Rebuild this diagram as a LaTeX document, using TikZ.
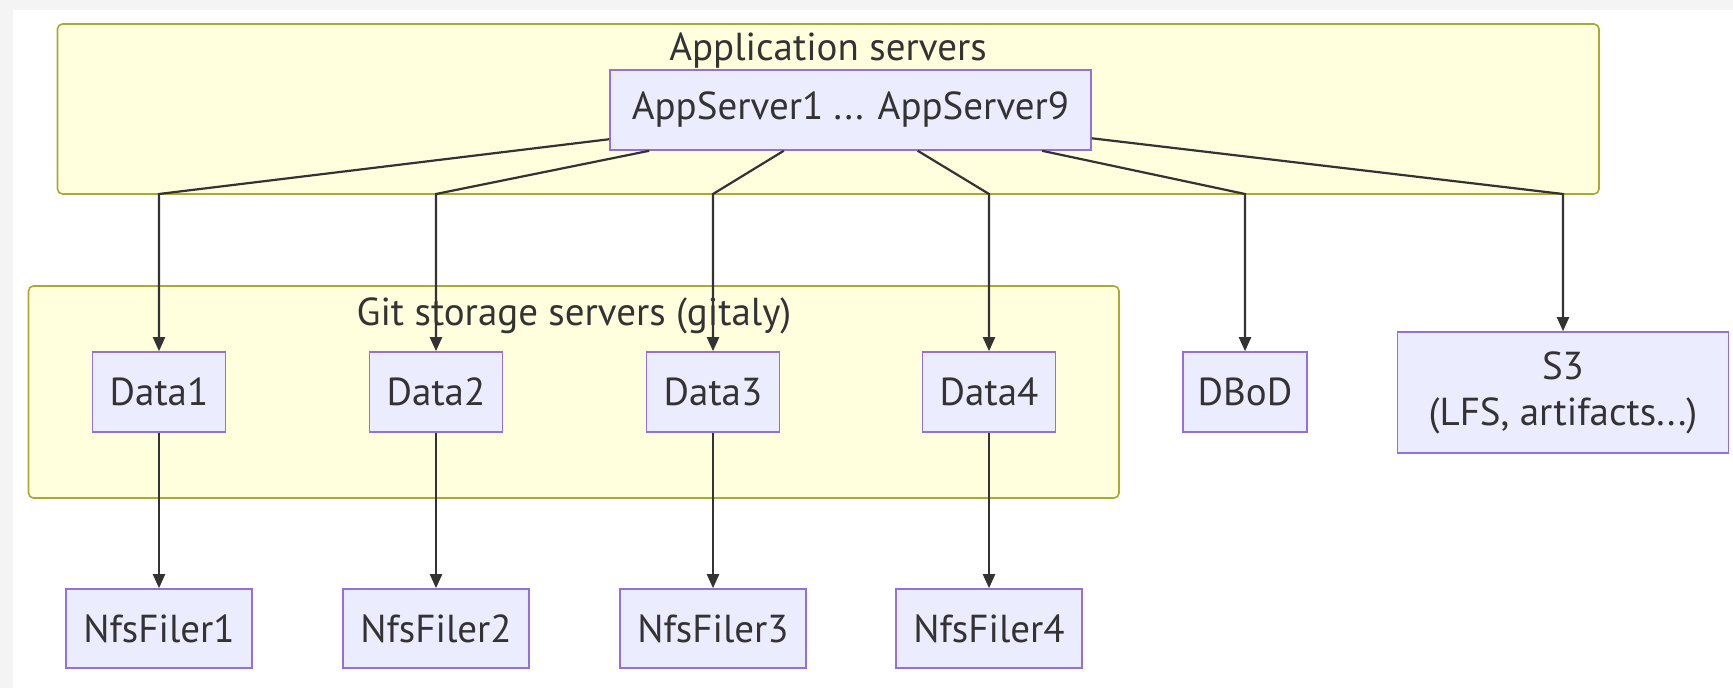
\documentclass[tikz,border=0pt]{standalone}
\usepackage{fontspec}
\setmainfont{PT Sans}
\usetikzlibrary{arrows.meta}

\definecolor{nodefill}{HTML}{ECECFF}
\definecolor{nodeline}{HTML}{9370DB}
\definecolor{clusterfill}{HTML}{FFFFDE}
\definecolor{clusterline}{HTML}{AAAA33}
\definecolor{ink}{HTML}{333333}
\definecolor{pagegray}{HTML}{F4F4F4}

\begin{document}
\begin{tikzpicture}[x=0.5pt, y=-0.5pt, >={Triangle[length=7pt,width=6pt]},
  box/.style={draw=nodeline, fill=nodefill, line width=0.8pt, text=ink,
    font=\fontsize{19.5}{23}\selectfont, align=center, inner sep=0pt, minimum height=40pt},
  cluster/.style={draw=clusterline, fill=clusterfill, line width=0.8pt, rounded corners=2.5pt},
  title/.style={text=ink, font=\fontsize{19.5}{23}\selectfont},
  edge/.style={draw=ink, line width=1.1pt, ->}]
  \useasboundingbox (0,0) rectangle (1733,688);
  \fill[pagegray] (0,0) rectangle (1733,688);
  \fill[white] (13,10) rectangle (1733,688);

  % Clusters
  \draw[cluster] (57.5,24) rectangle (1599,194);
  \node[title] (apptitle) at (828,51) {Application servers};
  \draw[cluster] (28.5,286) rectangle (1119,498);
  \node[title] (gittitle) at (574,316) {Git storage servers (gitaly)};

  % Nodes
  \node[box, minimum width=240.5pt] (app) at (850.5,110) {AppServer1 ... AppServer9};
  \node[box, minimum width=66.5pt] (d1) at (159,392) {Data1};
  \node[box, minimum width=66.5pt] (d2) at (436,392) {Data2};
  \node[box, minimum width=66.5pt] (d3) at (713,392) {Data3};
  \node[box, minimum width=66.5pt] (d4) at (989,392) {Data4};
  \node[box, minimum width=62pt] (dbod) at (1245,392) {DBoD};
  \node[box, minimum width=165.5pt, minimum height=60.5pt] (s3) at (1563,392.5) {S3\\(LFS, artifacts...)};
  \node[box, minimum width=93pt, minimum height=39.5pt] (n1) at (159,628.5) {NfsFiler1};
  \node[box, minimum width=93pt, minimum height=39.5pt] (n2) at (436,628.5) {NfsFiler2};
  \node[box, minimum width=93pt, minimum height=39.5pt] (n3) at (713,628.5) {NfsFiler3};
  \node[box, minimum width=93pt, minimum height=39.5pt] (n4) at (989,628.5) {NfsFiler4};

  % Bend points on the cluster edge
  \coordinate (b1) at (159,194);
  \coordinate (b2) at (436,194);
  \coordinate (b3) at (713,194);
  \coordinate (b4) at (989,194);
  \coordinate (b5) at (1245,194);
  \coordinate (b6) at (1563,194);

  % Edges
  \draw[edge] (app) -- (b1) -- (d1);
  \draw[edge] (app) -- (b2) -- (d2);
  \draw[edge] (app) -- (b3) -- (d3);
  \draw[edge] (app) -- (b4) -- (d4);
  \draw[edge] (app) -- (b5) -- (dbod);
  \draw[edge] (app) -- (b6) -- (s3);
  \draw[edge] (d1) -- (n1);
  \draw[edge] (d2) -- (n2);
  \draw[edge] (d3) -- (n3);
  \draw[edge] (d4) -- (n4);
\end{tikzpicture}
\end{document}
